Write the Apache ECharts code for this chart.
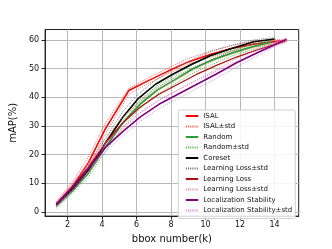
<!DOCTYPE html>
<html><head><meta charset="utf-8">
<script src="https://cdn.jsdelivr.net/npm/echarts@6/dist/echarts.min.js"></script>
<style>html,body{margin:0;padding:0;background:#fff}#c{width:332px;height:249px}</style>
</head><body><div id="c"></div>
<script>
var xTicks = [2,4,6,8,10,12,14];
var yTicks = [0,10,20,30,40,50,60];

var isalX = [1.35,2.3,3.2,4.2,5.55,6.6,7.8,9.0,10.3,11.5,12.8,14.7];
var isalY = [2.5,9,17,29,42.3,45.5,49,52.3,55,57,58.5,59.8];
var isalUp = [3.5,10.5,19,31,43,46.5,50,53.5,56,58,59.5,60.3];
var isalLo = [1.8,8,15.5,27,41,44.5,48,51.5,54,56,57.5,59.2];

var randX = [1.35,2.3,3.2,4.2,5.2,6.2,7.2,8.2,9.3,10.4,11.6,12.7,13.8];
var randY = [2,7.5,13.5,22.5,31,37.5,42.5,46,50,53,55.5,57.5,59.2];
var randUp = [2.8,8.5,15,24,32.5,39,44,47.5,51.5,54.5,56.5,58.5,59.8];
var randLo = [1.3,6.5,12,21,29.5,36,41,44.5,48.5,51.5,54.5,56.5,58.6];

var coreX = [1.35,2.3,3.2,4.2,5.2,6.1,7.1,8.1,9.2,10.3,11.5,12.8,14.0];
var coreY = [2.5,8,14.5,24,33,39.5,44.5,48,51.5,54.5,57,59.3,60.3];
var coreUp = [3.2,9,16,25.5,35,41,46,49.5,53,56,58,60,60.8];
var coreLo = [1.8,7,13,22.5,31,38,43,46.5,50,53,56,58.5,59.8];

var llX = [1.35,2.3,3.2,4.2,5.2,6.2,7.3,8.4,9.5,10.6,11.8,13,14.6];
var llY = [2.8,9,15.5,24,31,36.5,41,44.5,48,51,54,56.5,59.5];
var llUp = [3.5,10,17,25.5,33,38.5,43,46.5,50,53,55.5,57.5,60];
var llLo = [2,8,14,22.5,29,34.5,39,42.5,46,49,52.5,55.5,59];

var lsX = [1.35,2.3,3.2,4.2,5.2,6.2,7.3,8.4,9.5,10.6,11.8,13,14.7];
var lsY = [2.5,8.5,15,22.5,28,33,37.5,41,44.5,48,52,55.5,60.2];
var lsUp = [3.2,9.5,16.5,24,29.5,34.5,39,42.5,46,49.5,53.5,56.5,60.5];
var lsLo = [1.8,7.5,13.5,21,26.5,31.5,36,39.5,43,46.5,50.5,54.5,59.8];

function pts(xs, ys){ return xs.map(function(x,i){return [x, ys[i]];}); }
function line(name, xs, ys, color, width, type){
  return {name:name, type:'line', data:pts(xs,ys), showSymbol:false, symbol:'none',
    lineStyle:{color:color, width:width, type:type}, itemStyle:{color:color}, silent:true, animation:false};
}
var S1 = 'Learning Loss\u00b1std';
var S2 = 'Learning Loss\u00b1std\u200b';
var dot = [1,1.2];
var series = [
  line('ISAL', isalX, isalY, '#ff0000', 1.6, 'solid'),
  line('ISAL\u00b1std', isalX, isalUp, '#ff5050', 0.9, dot),
  line('ISAL\u00b1std', isalX, isalLo, '#ff5050', 0.9, dot),
  line('Random', randX, randY, '#2ca02c', 1.8, 'solid'),
  line('Random\u00b1std', randX, randUp, '#33bb33', 0.9, dot),
  line('Random\u00b1std', randX, randLo, '#33bb33', 0.9, dot),
  line('Coreset', coreX, coreY, '#000000', 1.6, 'solid'),
  line(S1, coreX, coreUp, '#666666', 0.9, dot),
  line(S1, coreX, coreLo, '#666666', 0.9, dot),
  line('Learning Loss', llX, llY, '#b01010', 1.3, 'solid'),
  line(S2, llX, llUp, '#f08080', 0.9, dot),
  line(S2, llX, llLo, '#f08080', 0.9, dot),
  line('Localization Stability', lsX, lsY, '#800080', 1.6, 'solid'),
  line('Localization Stability\u00b1std', lsX, lsUp, '#dd77dd', 0.9, dot),
  line('Localization Stability\u00b1std', lsX, lsLo, '#dd77dd', 0.9, dot)
];
var legendNames = ['ISAL','ISAL\u00b1std','Random','Random\u00b1std','Coreset',S1,'Learning Loss',S2,'Localization Stability','Localization Stability\u00b1std'];

var chart = echarts.init(document.getElementById('c'), null, {renderer:'canvas'});
chart.setOption({
  animation:false,
  textStyle:{fontFamily:'DejaVu Sans'},
  grid:{left:42, top:29.5, right:33.3, bottom:28, show:true, borderColor:'#222', borderWidth:1, backgroundColor:'transparent'},
  legend:{data:legendNames, orient:'vertical', right:36.7, top:110, itemWidth:12.5, itemHeight:8, itemGap:2.5,
    padding:[2,3,4,6.5], backgroundColor:'rgba(255,255,255,0.85)', borderColor:'#d0d0d0', borderWidth:1, borderRadius:2,
    itemStyle:{opacity:0},
    textStyle:{fontSize:7, lineHeight:8, color:'#111', fontFamily:'DejaVu Sans'}, selectedMode:false},
  xAxis:{type:'value', min:0.7, max:15.4, name:'bbox number(k)', nameLocation:'middle', nameGap:16,
    nameTextStyle:{fontSize:10, color:'#111', fontFamily:'DejaVu Sans'},
    axisLine:{show:true, onZero:false, lineStyle:{color:'#222'}},
    axisTick:{show:true, length:3.5, customValues:xTicks, lineStyle:{color:'#222'}},
    axisLabel:{customValues:xTicks, fontSize:8, color:'#111', margin:5, fontFamily:'DejaVu Sans'},
    splitLine:{show:true, lineStyle:{color:'#b8b8b8', width:1}}},
  yAxis:{type:'value', min:-1.5, max:63.6, name:'mAP(%)', nameLocation:'middle', nameGap:17, nameRotate:90,
    nameTextStyle:{fontSize:10, color:'#111', fontFamily:'DejaVu Sans'},
    axisLine:{show:true, onZero:false, lineStyle:{color:'#222'}},
    axisTick:{show:true, length:3.5, customValues:yTicks, lineStyle:{color:'#222'}},
    axisLabel:{customValues:yTicks, fontSize:8, color:'#111', margin:6, fontFamily:'DejaVu Sans'},
    splitLine:{show:true, lineStyle:{color:'#b8b8b8', width:1}}},
  series:series
});
</script></body></html>
